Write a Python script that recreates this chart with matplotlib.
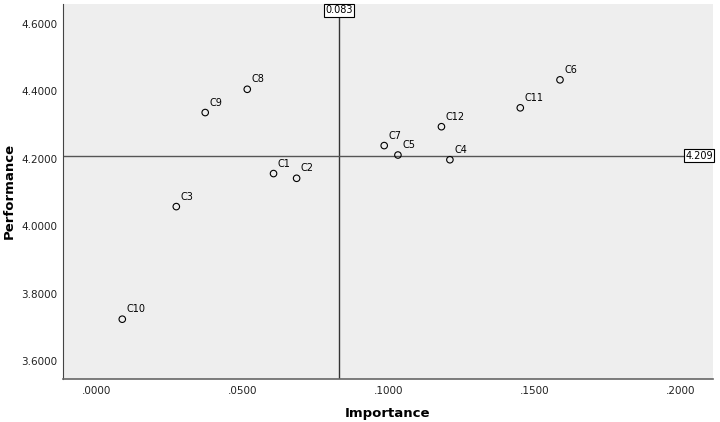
import matplotlib
matplotlib.use("Agg")
import matplotlib.pyplot as plt

labels = ["C1", "C2", "C3", "C4", "C5", "C6", "C7", "C8", "C9", "C10", "C11", "C12"]
importance = [0.0605, 0.0684, 0.0272, 0.1209, 0.1031, 0.1586, 0.0984, 0.0515, 0.0371, 0.0087, 0.1450, 0.1180]
performance = [4.156, 4.142, 4.058, 4.197, 4.211, 4.434, 4.239, 4.406, 4.337, 3.724, 4.351, 4.295]

x_ref = 0.083
y_ref = 4.209

x_ticks = [0.0, 0.05, 0.10, 0.15, 0.20]
x_tick_labels = [".0000", ".0500", ".1000", ".1500", ".2000"]
y_ticks = [3.6, 3.8, 4.0, 4.2, 4.4, 4.6]
y_tick_labels = ["3.6000", "3.8000", "4.0000", "4.2000", "4.4000", "4.6000"]

plt.rcParams["font.family"] = ["DejaVu Sans"]

fig = plt.figure(figsize=(7.2, 4.22), dpi=100)
ax = fig.add_axes([63 / 720, 1 - 378.7 / 422, 650 / 720, 374.7 / 422])
ax.set_facecolor("#eeeeee")

ax.scatter(importance, performance, s=22, facecolors="none", edgecolors="black",
           linewidths=0.8, zorder=3)
for lab, x, y in zip(labels, importance, performance):
    ax.annotate(lab, (x, y), xytext=(3, 3.5), textcoords="offset points",
                fontsize=7, ha="left", va="bottom")

ax.axvline(x_ref, color="#333333", linewidth=1, zorder=2)
ax.axhline(y_ref, color="#555555", linewidth=1, zorder=2)

box = dict(boxstyle="square,pad=0.15", facecolor="white", edgecolor="black", linewidth=0.8)
ax.annotate(f"{x_ref:.3f}", (x_ref, 1.0), xycoords=ax.get_xaxis_transform(),
            xytext=(0, -4.5), textcoords="offset points",
            ha="center", va="center", fontsize=7, bbox=box, zorder=4)
ax.text(1.0, y_ref, f"{y_ref:.3f}", transform=ax.get_yaxis_transform(),
        ha="right", va="center", fontsize=7, bbox=box, zorder=4)

ax.set_xlim(-0.0116, 0.211)
ax.set_ylim(3.5475, 4.659)
ax.set_xticks(x_ticks)
ax.set_xticklabels(x_tick_labels)
ax.set_yticks(y_ticks)
ax.set_yticklabels(y_tick_labels)
ax.tick_params(length=0, labelsize=7.5, colors="#222222")
ax.tick_params(axis="x", pad=5)
ax.tick_params(axis="y", pad=4)

for side in ["top", "right"]:
    ax.spines[side].set_visible(False)
ax.spines["left"].set_color("#444444")
ax.spines["bottom"].set_color("#666666")
ax.spines["bottom"].set_linewidth(1.2)

fig.text(388 / 720, 1 - 413 / 422, "Importance", fontsize=9.5, fontweight="bold",
         ha="center", va="center")
fig.text(9 / 720, 1 - 191 / 422, "Performance", fontsize=9.5, fontweight="bold",
         ha="center", va="center", rotation=90)

fig.savefig("out.png", dpi=100)
